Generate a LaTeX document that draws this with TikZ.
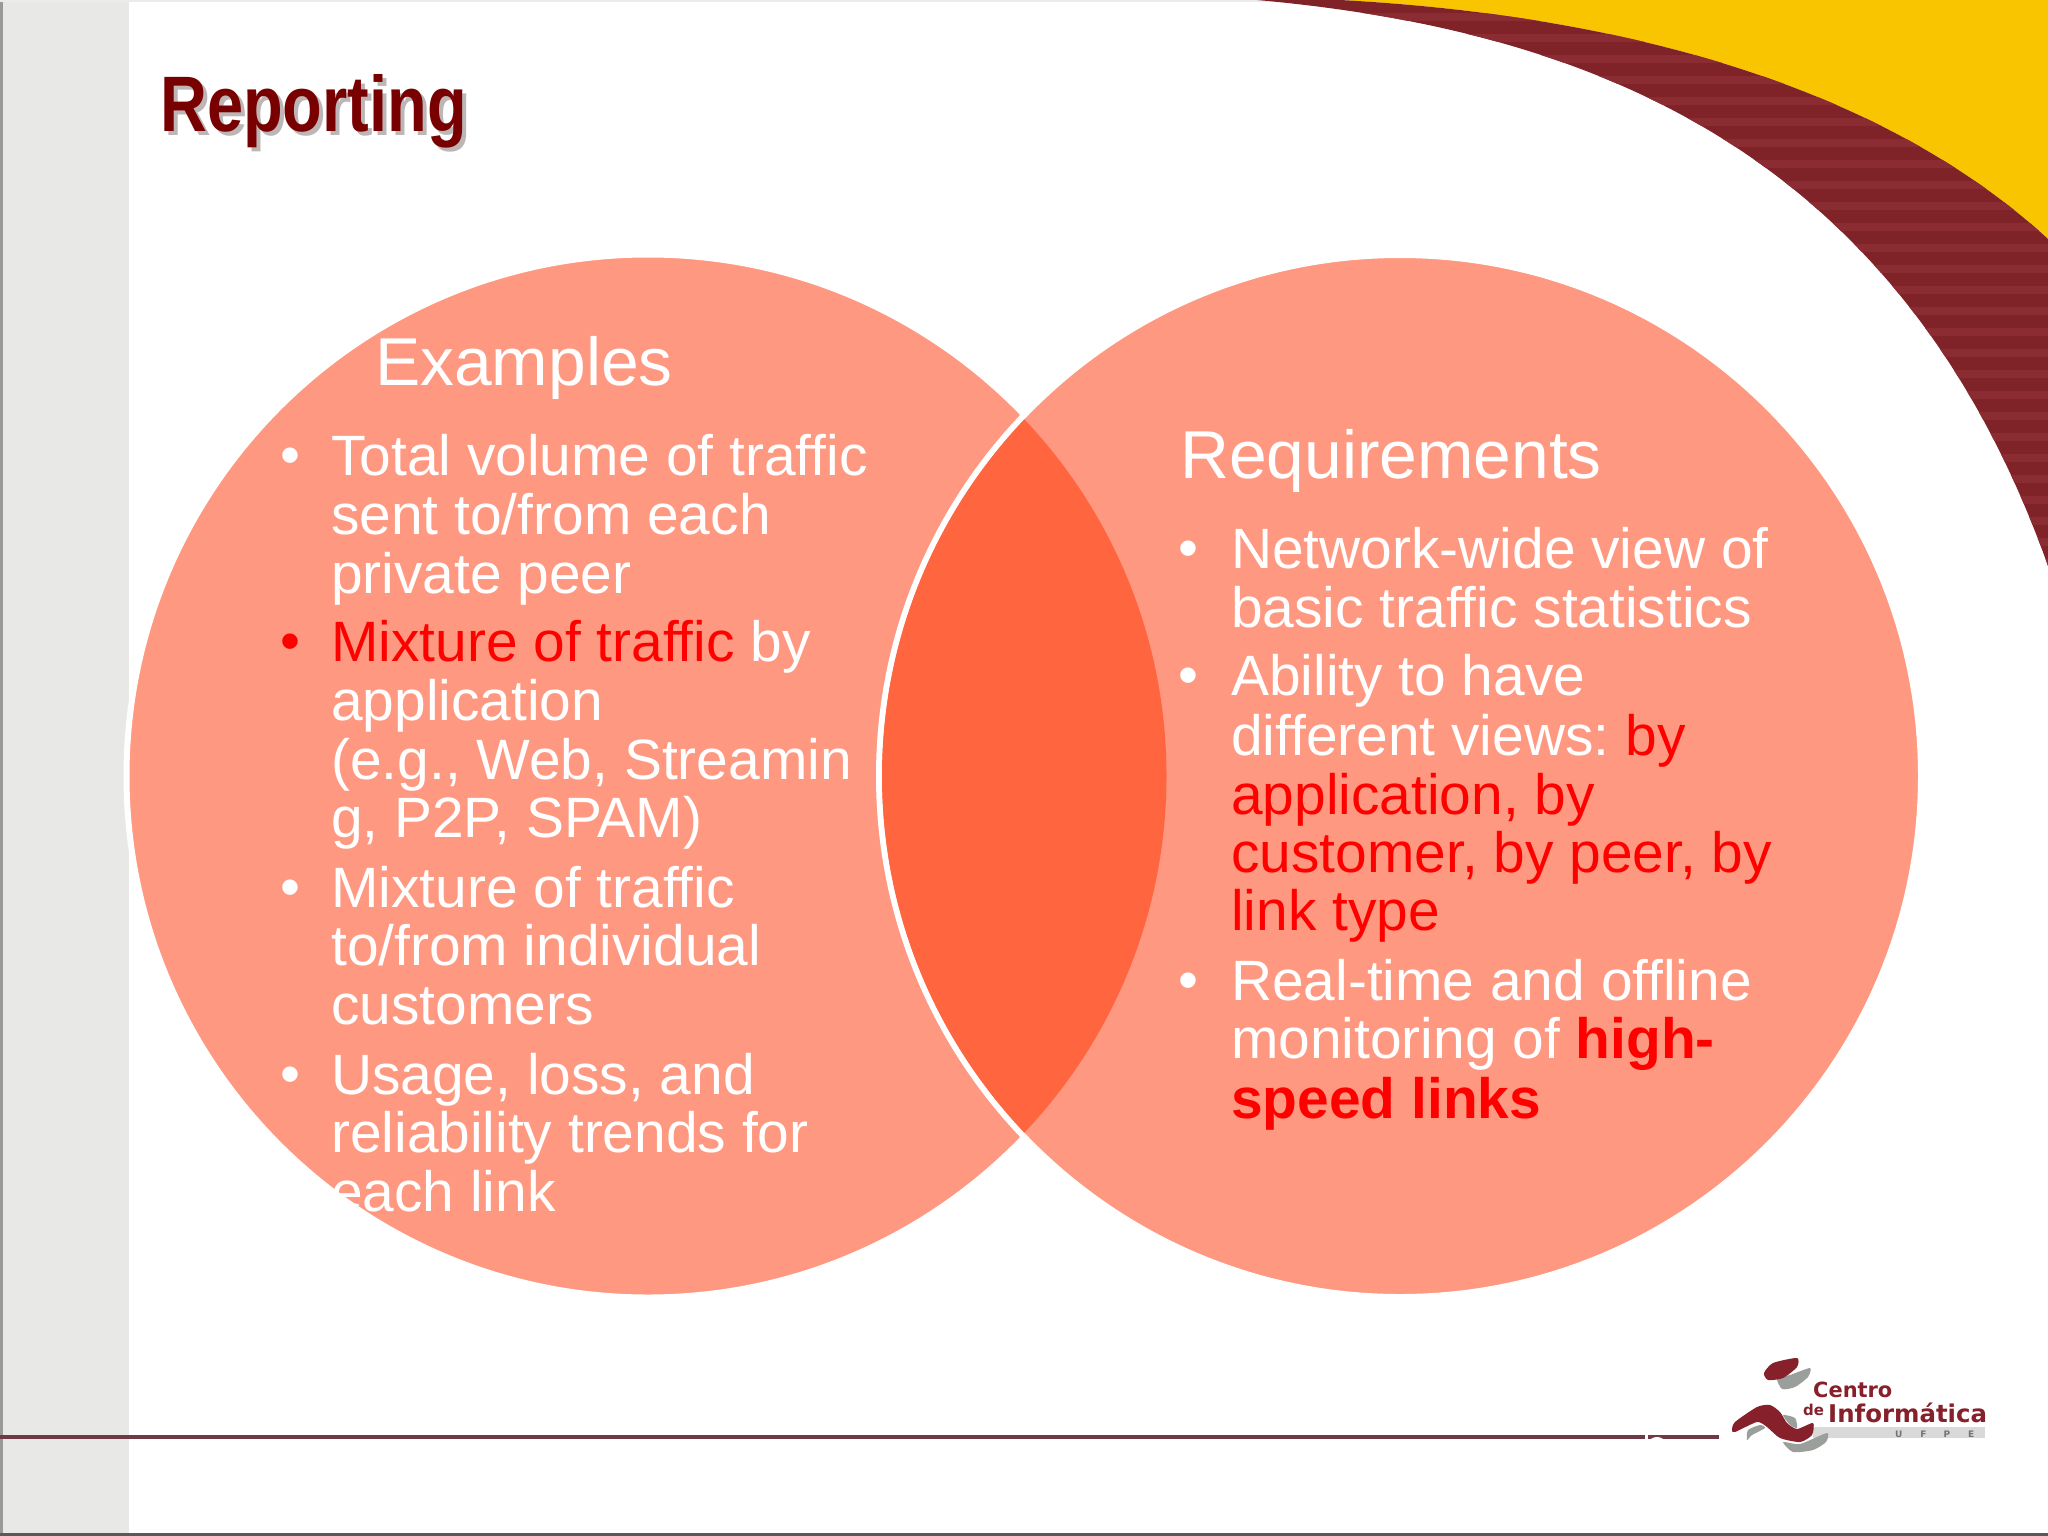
\documentclass[tikz,border=0pt]{standalone}
\usepackage{fontspec}
\setmainfont{Liberation Sans}
\newfontfamily\logofont{DejaVu Sans}
\frenchspacing
\definecolor{salmon}{HTML}{FF9880}
\definecolor{lens}{HTML}{FF6640}
\definecolor{goldband}{HTML}{F8C500}
\definecolor{maroonband}{HTML}{7F2328}
\definecolor{maroonstripe}{HTML}{8B2C33}
\definecolor{titlered}{HTML}{780000}
\definecolor{titleshade}{HTML}{BDB6B6}
\definecolor{sideband}{HTML}{E8E9E7}
\definecolor{logored}{HTML}{86202A}
\definecolor{logogray}{HTML}{9A9F9B}
\definecolor{rulecol}{HTML}{6E3A46}
\newcommand\bodyline[4]{\node[bodytext] (#1) at (#2,#3) {#4};}
\newcommand\hl[1]{\textcolor{red}{#1}}
\newcommand\outerarc{(1257,0) -- (1340,0) .. controls (1620,15) and (1880,85) .. (2048,239)}
\tikzset{
  bodytext/.style={anchor=base west,inner sep=0pt,text=white,font=\fontsize{57.1}{59}\selectfont},
  headtext/.style={anchor=base west,inner sep=0pt,text=white,font=\fontsize{68}{70}\selectfont},
  bulletmark/.style={anchor=base,inner sep=0pt,text=white,font=\fontsize{57.1}{59}\selectfont},
  titletext/.style={anchor=base west,inner sep=0pt,xscale=.825,font=\fontsize{79}{80}\selectfont\bfseries},
  logotext/.style={anchor=base west,inner sep=0pt,text=logored,font=\logofont\bfseries},
  logoblob/.style={smooth cycle,tension=.4},
}
\begin{document}
\begin{tikzpicture}[x=1bp,y=-1bp]
\useasboundingbox (0,0) rectangle (2048,1536);
\fill[white] (0,0) rectangle (2048,1536);
% slide furniture
\fill[sideband] (0,0) rectangle (129,1536);
\fill[black!40] (0,0) rectangle (2.5,1536);
\fill[black!8] (0,0) rectangle (2048,2);
\fill[black!65] (0,1533) rectangle (2048,1536);
% swoosh
\fill[goldband] \outerarc -- (2048,0) -- cycle;
\begin{scope}
\clip \outerarc -- (2048,566) .. controls (1900,150) and (1590,30) .. (1257,0) -- cycle;
\fill[maroonband] (1250,0) rectangle (2048,570);
\foreach \yy in {13,34,...,570}{\fill[maroonstripe] (1250,\yy) rectangle (2048,\yy+8);}
\end{scope}
% rule
\fill[rulecol] (0,1435) rectangle (1719,1439);
\fill[white] (1645,1433) rectangle (1648,1441);
\fill[white] (1657,1443) ellipse[x radius=8,y radius=6];
% Venn
\fill[salmon,draw=white,line width=6bp] (648,776) circle[radius=521.5];
\fill[salmon,draw=white,line width=6bp] (1400,776) circle[radius=521];
\begin{scope}
\clip (648,776) circle[radius=518.5];
\fill[lens] (1400,776) circle[radius=518];
\end{scope}
% title with its soft shadow
\node[titletext,text=titlered] (title) at (160,132) {\rlap{\raisebox{-4bp}{\hspace{5bp}\textcolor{titleshade}{Reporting}}}Reporting};
% left
\node[headtext] (examples) at (375,385) {Examples};
\node[bulletmark] (b1) at (290,474) {•};
\bodyline{a1}{331}{475}{Total volume of traffic}
\bodyline{a2}{331}{534}{sent to/from each}
\bodyline{a3}{331}{593}{private peer}
\node[bulletmark,text=red] (b2) at (290,660) {•};
\bodyline{a4}{331}{661}{\hl{Mixture of traffic} by}
\bodyline{a5}{331}{720}{application}
\bodyline{a6}{331}{779}{(e.g., Web, Streamin}
\bodyline{a7}{331}{837.5}{g, P2P, SPAM)}
\node[bulletmark] (b3) at (290,906) {•};
\bodyline{a8}{331}{907}{Mixture of traffic}
\bodyline{a9}{331}{965.5}{to/from individual}
\bodyline{a10}{331}{1024}{customers}
\node[bulletmark] (b4) at (290,1093) {•};
\bodyline{a11}{331}{1094}{Usage, loss, and}
\bodyline{a12}{331}{1152}{reliability trends for}
\bodyline{a13}{331}{1211}{each link}
% right
\node[headtext] (req) at (1180,478) {Requirements};
\node[bulletmark] (c1) at (1188,567) {•};
\bodyline{r1}{1231}{568}{Network-wide view of}
\bodyline{r2}{1231}{627}{basic traffic statistics}
\node[bulletmark] (c2) at (1188,694) {•};
\bodyline{r3}{1231}{695}{Ability to have}
\bodyline{r4}{1231}{755}{different views: \hl{by}}
\bodyline{r5}{1231}{814}{\hl{application, by}}
\bodyline{r6}{1231}{872}{\hl{customer, by peer, by}}
\bodyline{r7}{1231}{930}{\hl{link type}}
\node[bulletmark] (c3) at (1188,999) {•};
\bodyline{r8}{1231}{1000}{Real-time and offline}
\bodyline{r9}{1231}{1058}{monitoring of \hl{\bfseries high-}}
\bodyline{r10}{1231}{1118}{\hl{\bfseries speed links}}
% logo
\fill[black!15] (1813,1427) rectangle (1985,1438);
\fill[logogray] plot[logoblob] coordinates {(1777,1378) (1790,1375) (1810,1368) (1808,1377) (1795,1387) (1782,1389)};
\fill[logored] plot[logoblob] coordinates {(1764,1373) (1773,1363) (1797,1358) (1797,1367) (1783,1378) (1768,1380)};
\fill[logogray] plot[logoblob] coordinates {(1747,1440) (1748,1430) (1760,1425) (1765,1428) (1752,1435)};
\fill[logogray] plot[logoblob] coordinates {(1783,1442) (1800,1444) (1827,1433) (1826,1442) (1813,1450) (1793,1452)};
\fill[logogray] plot[logoblob] coordinates {(1783,1415) (1795,1418) (1797,1428) (1790,1425)};
\fill[logored] plot[logoblob] coordinates {(1732,1430) (1735,1422) (1757,1407) (1770,1405) (1780,1412) (1787,1423) (1797,1429) (1813,1423) (1812,1435) (1800,1442) (1780,1438) (1767,1427) (1757,1422) (1735,1432)};
\node[logotext,font=\logofont\bfseries\fontsize{21}{22}\selectfont] (centro) at (1813,1397) {Centro};
\node[logotext,font=\logofont\bfseries\fontsize{15}{16}\selectfont] (de) at (1803,1415) {de};
\node[logotext,font=\logofont\bfseries\fontsize{24.5}{25}\selectfont] (info) at (1828,1422) {Informática};
\node[anchor=base west,inner sep=0pt,text=black!55,font=\logofont\bfseries\fontsize{9}{10}\selectfont] (ufpe) at (1895,1437) {U\hspace{18bp}F\hspace{17bp}P\hspace{18bp}E};
\end{tikzpicture}
\end{document}
